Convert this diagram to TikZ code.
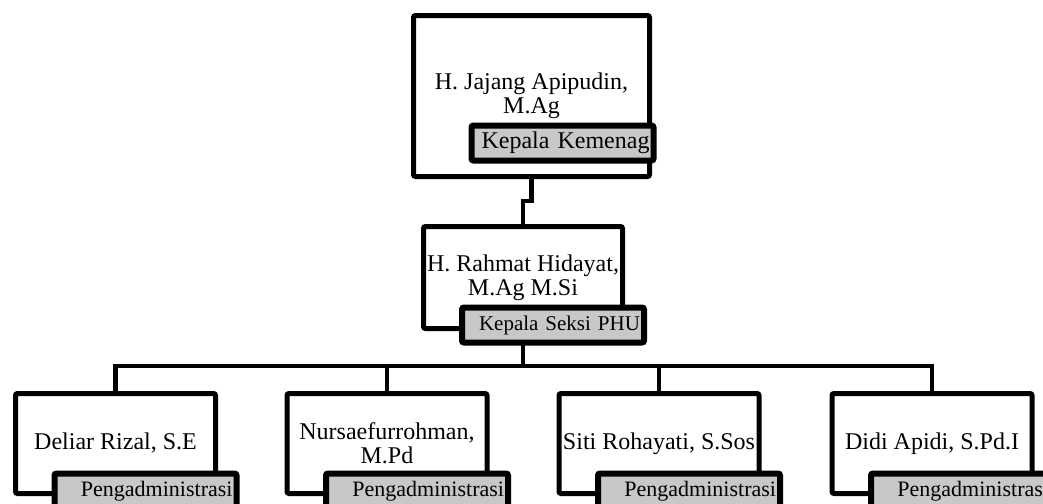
\documentclass[tikz,border=0pt]{standalone}
\usepackage{fontspec}
\setmainfont{Liberation Serif}
\usepackage{xcolor}
\definecolor{rolegray}{RGB}{200,200,200}

\begin{document}
\begin{tikzpicture}[x=0.5pt, y=-0.5pt]
        \tikzset{person/.style={rectangle, draw, line width=2.5pt, rounded corners=1pt, fill=white, align=center, inner sep=0pt, font=\fontsize{12}{12}\selectfont}}
        \tikzset{role/.style={rectangle, draw, line width=3pt, rounded corners=1pt, fill=rolegray, inner xsep=2pt, inner ysep=0pt, text width=87pt, align=right, minimum height=17.5pt}}
        \tikzset{link/.style={draw, line width=2.3pt}}

        \clip (0,0) rectangle (1043,503);

        % people
        \node [person, minimum width=118pt, minimum height=80.5pt] (kemenag) at (531.5,96) {H. Jajang Apipudin,\\M.Ag};
        \node [person, minimum width=99.5pt, minimum height=51pt] (phu) at (523,277.5) {H. Rahmat Hidayat,\\M.Ag M.Si};
        \foreach \name/\x/\i in {{Deliar Rizal, S.E}/115.5/1, {Nursaefurrohman,\\M.Pd}/387/2, {Siti Rohayati, S.Sos}/659/3, {Didi Apidi, S.Pd.I}/932/4}
            \node [person, minimum width=100pt, minimum height=50pt] (staff\i) at (\x,443.5) {\name};

        % connectors
        \draw [link] (kemenag.south) -- ++(0,22) -| (phu.north);
        \draw [link] (phu.south) -- ++(0,35) coordinate (bus);
        \foreach \i in {1,...,4}
            \draw [link] (bus) -| (staff\i.north);

        % roles
        \node [role, font=\fontsize{12}{12}\selectfont] (kemenagrole) at (562.5,143) {Kepala Kemenag};
        \node [role, font=\fontsize{10.5}{11}\selectfont] (phurole) at (553,325) {Kepala Seksi PHU};
        \foreach \x/\i in {115.5/1, 387/2, 659/3, 932/4}
            \node [role, font=\fontsize{11}{11}\selectfont] (staffrole\i) at (\x+30,491) {Pengadministrasi};
\end{tikzpicture}
\end{document}
